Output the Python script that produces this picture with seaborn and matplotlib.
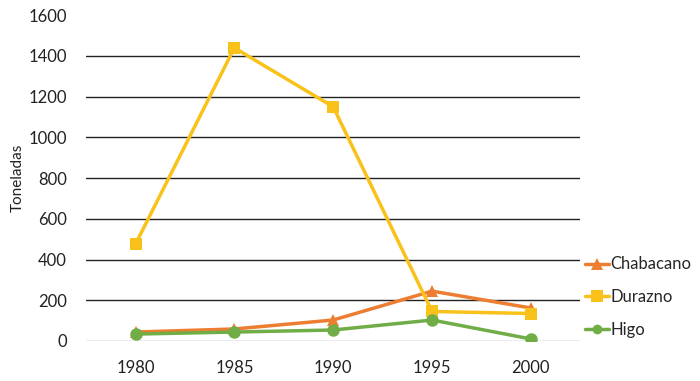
import pandas as pd
import seaborn as sns
import matplotlib.pyplot as plt

# Data
years = [1980, 1985, 1990, 1995, 2000]
chabacano = [44, 59, 103, 245, 162]
durazno = [476, 1440, 1150, 145, 135]
higo = [34, 44, 54, 103, 10]

df = pd.DataFrame({
    "Año": years * 3,
    "Toneladas": chabacano + durazno + higo,
    "Fruta": ["Chabacano"] * 5 + ["Durazno"] * 5 + ["Higo"] * 5,
})

sns.set_theme(style="white")
plt.rcParams['font.family'] = ['Lato', 'DejaVu Sans']

fig = plt.figure(figsize=(7, 3.81), dpi=100)
ax = fig.add_axes([0.123, 0.105, 0.706, 0.855])

palette = {"Chabacano": "#ED7D31", "Durazno": "#F9C21A", "Higo": "#70AD47"}
markers = {"Chabacano": "^", "Durazno": "s", "Higo": "o"}

# Gridlines behind the data
for v in range(0, 1600, 200):
    ax.axhline(v, color="#222222" if v > 0 else "#999999", lw=1, zorder=0)

sns.lineplot(
    data=df, x="Año", y="Toneladas", hue="Fruta", style="Fruta",
    palette=palette, markers=markers, dashes=False,
    linewidth=2.5, markersize=9, markeredgewidth=0, ax=ax
)
# Higo drawn thicker with a smaller marker
ax.lines[-1].set_linewidth(4)
ax.lines[-1].set_markersize(7)

ax.set_xlim(1977.5, 2002.5)
ax.set_ylim(0, 1600)
ax.set_xticks(years)
ax.set_yticks(range(0, 1601, 200))
ax.tick_params(axis="both", length=0, labelsize=12, colors="#222222")
ax.tick_params(axis="y", pad=14)
ax.tick_params(axis="x", pad=14)
for s in ax.spines.values():
    s.set_visible(False)
ax.set_xlabel("")
ax.set_ylabel("Toneladas", fontsize=11, color="#222222")
ax.yaxis.set_label_coords(-0.125, 0.5)

leg = ax.legend(
    loc="center left", bbox_to_anchor=(1.01, 0.135), frameon=False,
    borderaxespad=0, borderpad=0,
    fontsize=12, handlelength=1.4, handletextpad=0.1, labelspacing=1.0
)
for h in leg.legend_handles:
    h.set_linewidth(2.5)

plt.savefig("out.png", dpi=100)
